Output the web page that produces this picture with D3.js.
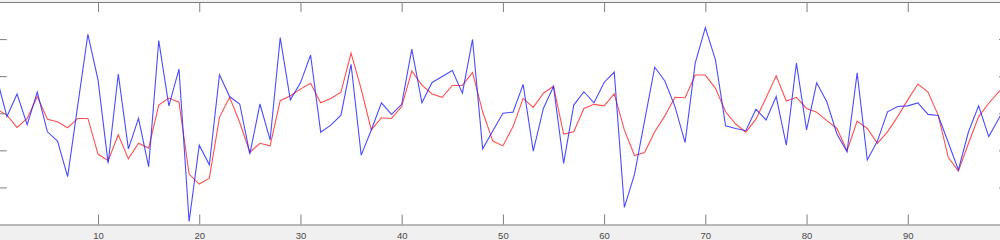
<!DOCTYPE html>
<html>
<head>
<meta charset="utf-8">
<script src="https://cdn.jsdelivr.net/npm/d3@7"></script>
<style>
	body { margin: 0; background: #f0f0f0; }
	svg { display: block; }
</style>
</head>
<body>
<div id="plot"></div>
<script>
const x_ticks = [10, 20, 30, 40, 50, 60, 70, 80, 90];
const y_ticks = [-2, -1, 0, 1, 2];

const signal_blue = [
	0.95, -0.09, 0.52, -0.31, 0.57, -0.5, -0.75, -1.71, 0.22, 2.13,
	0.9, -1.35, 1.06, -0.96, -0.14, -1.44, 1.96, 0.2, 1.19, -2.92,
	-0.86, -1.39, 1.04, 0.45, 0.25, -1.1, 0.25, -0.72, 2.04, 0.36,
	0.82, 1.57, -0.51, -0.32, -0.05, 1.32, -1.13, -0.45, 0.28, -0.03,
	0.24, 1.73, 0.28, 0.83, 0.99, 1.15, 0.54, 1.99, -0.96, -0.48,
	0.0, 0.03, 0.78, -1.02, 0.13, 0.72, -1.35, 0.22, 0.58, 0.28,
	0.83, 1.11, -2.54, -1.65, -0.2, 1.24, 0.87, 0.18, -0.79, 1.35,
	2.31, 1.44, -0.34, -0.41, -0.47, 0.11, -0.18, 0.45, -0.86, 1.35,
	-0.45, 0.82, 0.31, -0.56, -1.04, 1.09, -1.26, -0.75, 0.04, 0.18,
	0.2, 0.28, -0.03, -0.06, -0.79, -1.53, -0.5, 0.2, -0.63, -0.14,
	0.36
];

const signal_red = [
	0.11, -0.05, -0.38, -0.14, 0.45, -0.16, -0.23, -0.39, -0.14, -0.14,
	-1.1, -1.28, -0.58, -1.23, -0.81, -0.94, 0.22, 0.41, 0.3, -1.64,
	-1.91, -1.75, -0.11, 0.43, -0.25, -1.05, -0.81, -0.88, 0.34, 0.47,
	0.65, 0.81, 0.28, 0.4, 0.57, 1.62, 0.65, -0.45, -0.12, -0.14,
	0.18, 1.14, 0.76, 0.52, 0.43, 0.75, 0.75, 1.1, 0.04, -0.75,
	-0.88, -0.36, 0.4, 0.16, 0.54, 0.73, -0.56, -0.5, 0.13, 0.24,
	0.2, 0.52, -0.45, -1.14, -1.06, -0.5, -0.07, 0.43, 0.42, 1.03,
	1.03, 0.67, 0.04, -0.29, -0.51, -0.16, 0.42, 1.01, 0.33, 0.43,
	0.13, 0.03, -0.2, -0.41, -1.01, -0.21, -0.41, -0.81, -0.5, -0.09,
	0.36, 0.79, 0.57, -0.05, -1.19, -1.56, -0.81, -0.09, 0.27, 0.58,
	0.79
];

const width = 1000,
	height = 240;

// the axes box is wider than the window, MATLAB figure cropped on both sides
const box = { left: -3.2, right: 1009, top: 2, bottom: 224.5 };
const axis_colour = "#7d7d7d";

const svg = d3
	.select("#plot")
	.append("svg")
	.attr("width", width)
	.attr("height", height);

svg.append("rect")
	.attr("width", width)
	.attr("height", height)
	.attr("fill", "#f0f0f0");

svg.append("rect")
	.attr("x", box.left)
	.attr("y", box.top)
	.attr("width", box.right - box.left)
	.attr("height", box.bottom - box.top)
	.attr("fill", "#ffffff");

const x = d3.scaleLinear().domain([0, 100]).range([box.left, box.right]);
const y = d3.scaleLinear().domain([-3, 3]).range([box.bottom, box.top]);

svg.append("clipPath")
	.attr("id", "clip")
	.append("rect")
	.attr("x", box.left)
	.attr("y", box.top)
	.attr("width", box.right - box.left)
	.attr("height", box.bottom - box.top);

const line = d3
	.line()
	.x((d, i) => x(i))
	.y((d) => y(d));

const lines = svg.append("g").attr("clip-path", "url(#clip)");

lines.append("path")
	.datum(signal_red)
	.attr("d", line)
	.attr("fill", "none")
	.attr("stroke", "#ff3030")
	.attr("stroke-opacity", 0.85)
	.attr("stroke-width", 1.1);

lines.append("path")
	.datum(signal_blue)
	.attr("d", line)
	.attr("fill", "none")
	.attr("stroke", "#2b2bff")
	.attr("stroke-opacity", 0.85)
	.attr("stroke-width", 1.1);

function style_axis(g) {
	g.selectAll("path, line").attr("stroke", axis_colour);
	g.selectAll("text")
		.attr("fill", "#4a4a4a")
		.style("font-family", "'Liberation Sans', Arial, sans-serif")
		.style("font-size", "9.5px");
}

svg.append("g")
	.attr("transform", `translate(0, ${box.bottom})`)
	.call(d3.axisBottom(x).tickValues(x_ticks).tickSize(-10).tickSizeOuter(0).tickPadding(8))
	.call(style_axis);

svg.append("g")
	.attr("transform", `translate(0, ${box.top})`)
	.call(d3.axisTop(x).tickValues(x_ticks).tickSize(-10).tickSizeOuter(0).tickFormat(""))
	.call(style_axis);

svg.append("g")
	.attr("transform", `translate(${box.left}, 0)`)
	.call(d3.axisLeft(y).tickValues(y_ticks).tickSize(-10).tickSizeOuter(0).tickFormat(""))
	.call(style_axis);

svg.append("g")
	.attr("transform", `translate(${box.right}, 0)`)
	.call(d3.axisRight(y).tickValues(y_ticks).tickSize(-10).tickSizeOuter(0).tickFormat(""))
	.call(style_axis);
</script>
</body>
</html>
